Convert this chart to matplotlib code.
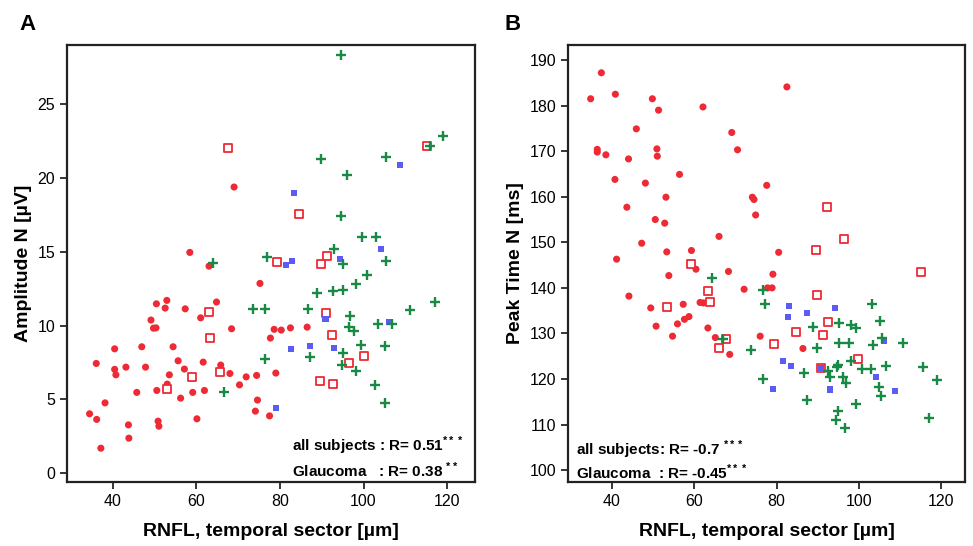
import matplotlib
matplotlib.use("Agg")
import matplotlib.pyplot as plt

plt.rcParams['font.family'] = ['Liberation Sans', 'DejaVu Sans']
plt.rcParams['mathtext.fontset'] = 'custom'
plt.rcParams['mathtext.rm'] = 'Liberation Sans'
plt.rcParams['mathtext.bf'] = 'Liberation Sans:bold'

# ---- Panel A: amplitude N [uV] vs RNFL temporal sector ----
a_circ_x = [58.4, 63.0, 75.2, 50.4, 52.9, 52.5, 57.3, 64.8, 61.0, 49.1, 49.7, 50.3, 68.4,
            40.4, 46.9, 54.4, 36.0, 40.4, 40.7, 43.1, 47.8, 55.6, 57.1, 61.6, 65.8, 68.0,
            71.9, 74.4, 70.3, 53.5, 53.0, 50.5, 45.7, 56.2, 59.1, 61.9, 38.1, 34.4, 36.1,
            43.7, 43.8, 50.8, 51.0, 60.1, 74.6, 74.1, 37.1, 78.6, 80.3, 82.5, 86.5, 77.7,
            79.0, 77.5, 69.0]
a_circ_y = [14.95, 14.02, 12.85, 11.47, 11.70, 11.18, 11.13, 11.59, 10.52, 10.37, 9.82, 9.84,
            9.78, 8.42, 8.56, 8.56, 7.43, 7.03, 6.66, 7.18, 7.18, 7.61, 7.05, 7.52, 7.32, 6.75,
            6.52, 6.62, 5.98, 6.66, 6.03, 5.60, 5.47, 5.08, 5.47, 5.60, 4.76, 4.02, 3.64,
            3.27, 2.37, 3.52, 3.18, 3.68, 4.95, 4.20, 1.69, 9.74, 9.69, 9.84, 9.89, 9.15,
            6.78, 3.88, 19.38]
a_sq_x = [67.5, 63.0, 63.3, 65.6, 59.0, 53.0, 84.6, 115.3, 91.3, 79.2, 89.7, 91.1, 92.4,
          100.1, 96.5, 89.5, 92.6]
a_sq_y = [22.04, 10.91, 9.15, 6.84, 6.50, 5.69, 17.57, 22.13, 14.70, 14.32, 14.16, 10.86,
          9.35, 7.95, 7.43, 6.25, 6.03]
a_blue_x = [83.3, 108.7, 104.1, 81.4, 82.9, 94.4, 90.9, 106.2, 82.7, 87.2, 92.9, 79.0]
a_blue_y = [18.97, 20.89, 15.16, 14.11, 14.36, 14.48, 10.41, 10.25, 8.40, 8.63, 8.49, 4.43]
a_plus_x = [64.0, 73.6, 66.7, 94.6, 119.1, 115.9, 89.8, 105.3, 96.0, 94.5, 99.6, 103.1, 92.9,
            76.8, 95.2, 105.5, 100.8, 98.2, 88.9, 92.6, 95.0, 76.4, 86.7, 96.8, 111.1, 117.2,
            103.5, 106.8, 96.5, 97.7, 99.3, 105.1, 76.3, 87.2, 95.2, 94.9, 98.2, 102.8, 105.1]
a_plus_y = [14.21, 11.11, 5.47, 28.32, 22.81, 22.13, 21.25, 21.43, 20.19, 17.43, 15.97, 15.97,
            15.18, 14.66, 14.18, 14.36, 13.41, 12.83, 12.22, 12.33, 12.40, 11.11, 11.13, 10.66,
            11.02, 11.59, 10.12, 10.09, 9.87, 9.60, 8.67, 8.63, 7.72, 7.86, 8.15, 7.34, 6.89,
            5.96, 4.74]

# ---- Panel B: peak time N [ms] vs RNFL temporal sector ----
b_circ_x = [34.8, 37.4, 40.8, 49.8, 51.3, 62.1, 45.9, 69.1, 70.5, 36.4, 36.4, 38.5, 50.9,
            51.0, 44.0, 40.7, 56.4, 48.1, 53.1, 43.6, 50.5, 52.8, 47.2, 66.0, 53.3, 59.3,
            41.1, 53.8, 60.4, 68.3, 72.1, 44.1, 49.4, 57.3, 61.4, 62.2, 50.7, 55.9, 57.6,
            58.7, 54.7, 63.3, 65.1, 68.6, 82.5, 74.1, 74.5, 77.6, 74.9, 80.5, 79.1, 77.8,
            78.9, 76.0, 86.4]
b_circ_y = [181.5, 187.2, 182.5, 181.5, 179.0, 179.7, 174.9, 174.1, 170.3, 170.4, 169.8, 169.2,
            170.5, 168.9, 168.3, 163.8, 164.9, 163.0, 159.9, 157.7, 155.0, 154.2, 149.8, 151.3,
            147.9, 148.2, 146.3, 142.7, 144.1, 143.6, 139.7, 138.2, 135.6, 136.4, 136.8, 136.7,
            131.6, 132.1, 133.1, 133.7, 129.4, 131.2, 129.1, 125.4, 184.1, 159.9, 159.4, 162.5,
            156.0, 147.8, 143.0, 140.0, 140.0, 129.4, 126.7]
b_sq_x = [59.1, 53.4, 63.3, 63.7, 67.8, 65.9, 92.3, 96.5, 89.6, 115.1, 89.8, 92.6, 84.6,
          91.3, 79.4, 99.9, 90.8]
b_sq_y = [145.2, 135.8, 139.4, 136.8, 128.7, 126.7, 157.8, 150.7, 148.4, 143.4, 138.4, 132.6,
          130.3, 129.6, 127.7, 124.5, 122.4]
b_blue_x = [83.0, 82.8, 87.3, 94.3, 106.0, 81.5, 83.5, 90.8, 104.1, 79.2, 92.9, 108.7]
b_blue_y = [136.0, 133.7, 134.4, 135.6, 128.3, 123.9, 122.8, 122.4, 120.4, 117.9, 117.7, 117.4]
b_plus_x = [76.7, 77.1, 103.2, 105.1, 88.9, 95.1, 98.2, 99.3, 73.8, 89.9, 95.1, 97.7, 103.5,
            105.5, 110.8, 98.2, 94.9, 94.6, 92.6, 92.9, 100.8, 103.0, 106.6, 115.7, 119.1,
            86.6, 76.7, 96.1, 96.9, 105.0, 105.4, 87.4, 99.4, 95.0, 94.5, 96.6, 117.0, 64.3, 66.9]
b_plus_y = [139.6, 136.4, 136.5, 132.7, 131.5, 132.2, 131.8, 131.2, 126.4, 126.9, 127.9, 127.9,
            127.4, 128.9, 127.9, 123.9, 123.0, 122.7, 121.8, 120.4, 122.2, 122.2, 122.9, 122.6,
            119.8, 121.3, 120.0, 120.4, 119.2, 118.3, 116.3, 115.5, 114.6, 113.0, 110.9, 109.2,
            111.4, 142.2, 128.7]

red = '#ee2a35'
blue = '#5b5cf2'
green = '#178a45'

fig = plt.figure(figsize=(9.73, 5.46), dpi=100)
axA = fig.add_axes([0.0689, 0.1172, 0.4193, 0.8004])
axB = fig.add_axes([0.5838, 0.1172, 0.4080, 0.8004])


def draw(ax, cx, cy, sx, sy, bx, by, px, py):
    ax.scatter(cx, cy, s=26, color=red, edgecolors='none', zorder=2)
    ax.scatter(sx, sy, s=30, marker='s', facecolors='white', edgecolors=red, linewidths=1.3, zorder=3)
    ax.scatter(bx, by, s=19, marker='s', color=blue, edgecolors='none', zorder=4)
    ax.scatter(px, py, s=48, marker='+', color=green, linewidths=1.7, zorder=5)
    for side in ['top', 'right', 'bottom', 'left']:
        ax.spines[side].set_linewidth(1.6)
        ax.spines[side].set_color('#222222')
    ax.tick_params(axis='both', labelsize=11.5, length=5, width=1.1, direction='out')
    ax.set_xticks([40, 60, 80, 100, 120])
    ax.set_xlabel('RNFL, temporal sector [µm]', fontsize=14, fontweight='bold', labelpad=10)


draw(axA, a_circ_x, a_circ_y, a_sq_x, a_sq_y, a_blue_x, a_blue_y, a_plus_x, a_plus_y)
axA.set_xlim(29.0, 126.7)
axA.set_ylim(-0.6, 29.0)
axA.set_yticks([0, 5, 10, 15, 20, 25])
axA.set_ylabel('Amplitude N [µV]', fontsize=14, fontweight='bold', labelpad=4)
axA.text(0.551, 0.082, r'all subjects : R= 0.51$^{\mathbf{***}}$', transform=axA.transAxes,
         fontsize=11, fontweight='bold', va='center')
axA.text(0.551, 0.027, r'Glaucoma   : R= 0.38 $^{\mathbf{**}}$', transform=axA.transAxes,
         fontsize=11, fontweight='bold', va='center')

draw(axB, b_circ_x, b_circ_y, b_sq_x, b_sq_y, b_blue_x, b_blue_y, b_plus_x, b_plus_y)
axB.set_xlim(29.3, 125.8)
axB.set_ylim(97.4, 193.3)
axB.set_yticks([100, 110, 120, 130, 140, 150, 160, 170, 180, 190])
axB.set_ylabel('Peak Time N [ms]', fontsize=14, fontweight='bold', labelpad=4)
axB.text(0.02, 0.073, r'all subjects: R= -0.7 $^{\mathbf{***}}$', transform=axB.transAxes,
         fontsize=11, fontweight='bold', va='center')
axB.text(0.02, 0.023, r'Glaucoma  : R= -0.45$^{\mathbf{***}}$', transform=axB.transAxes,
         fontsize=11, fontweight='bold', va='center')

fig.text(27 / 973, 1 - 25 / 546, 'A', fontsize=16, fontweight='bold', ha='center', va='center')
fig.text(513 / 973, 1 - 25 / 546, 'B', fontsize=16, fontweight='bold', ha='center', va='center')

fig.savefig('out.png', dpi=100)
